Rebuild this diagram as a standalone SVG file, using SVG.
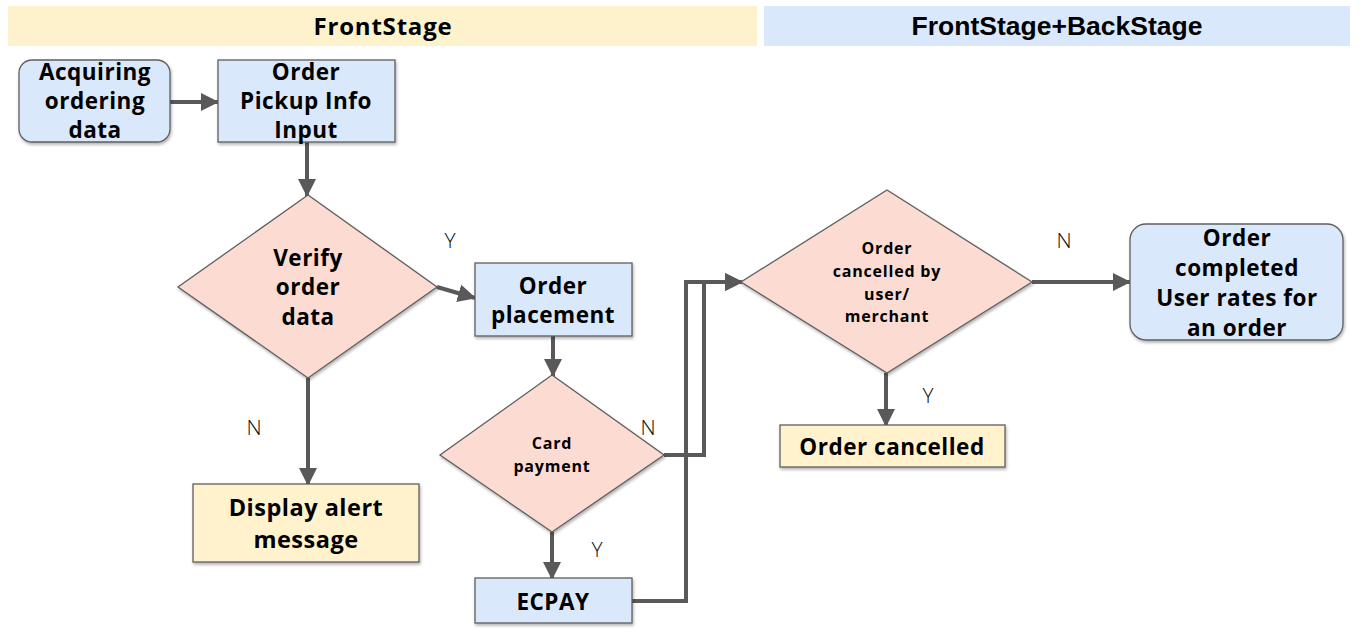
<svg xmlns="http://www.w3.org/2000/svg" width="1362" height="638" viewBox="0 0 1362 638">
<style>
.box{stroke:#5f5f5f;stroke-width:1.3}
.blue{fill:#dae8fc}
.yellow{fill:#fff2cc}
.pink{fill:#fcdcd2}
.t{font-family:"Open Sans","Noto Sans",sans-serif;font-weight:bold;font-size:22.5px;letter-spacing:0.5px;fill:#000;text-anchor:middle}
.ts{font-family:"Open Sans","Noto Sans",sans-serif;font-weight:bold;font-size:16px;letter-spacing:0.8px;fill:#000;text-anchor:middle}
.lbl{font-family:"Open Sans","Noto Sans",sans-serif;font-weight:300;font-size:21px;fill:#111;text-anchor:middle}
.conn{fill:none;stroke:#595959;stroke-width:4}
</style>
<defs>
<marker id="ah" markerUnits="userSpaceOnUse" markerWidth="18" markerHeight="18" refX="17" refY="9" orient="auto">
<path d="M0,0 L18,9 L0,18 z" fill="#595959"/>
</marker>
<filter id="sh" x="-10%" y="-10%" width="125%" height="130%">
<feDropShadow dx="1" dy="2" stdDeviation="1.5" flood-color="#000" flood-opacity="0.3"/>
</filter>
</defs>

<g id="header-frontstage">
<rect x="8" y="6" width="749" height="40" fill="#fef2cc"/>
<text x="383" y="35" class="t" style="font-size:24px;letter-spacing:0.8px">FrontStage</text>
</g>
<g id="header-backstage">
<rect x="764" y="6" width="586" height="40" fill="#dae8fc"/>
<text x="1057" y="35" style="font-family:'Liberation Sans',Arial,sans-serif;font-weight:bold;font-size:26.5px;text-anchor:middle">FrontStage+BackStage</text>
</g>

<g id="connectors">
<line class="conn" x1="170" y1="102" x2="218" y2="102" marker-end="url(#ah)"/>
<line class="conn" x1="307" y1="142" x2="307" y2="196" marker-end="url(#ah)"/>
<line class="conn" x1="437" y1="287" x2="475" y2="298" marker-end="url(#ah)"/>
<line class="conn" x1="308" y1="378" x2="308" y2="485" marker-end="url(#ah)"/>
<line class="conn" x1="553" y1="336" x2="553" y2="376" marker-end="url(#ah)"/>
<line class="conn" x1="552" y1="532" x2="552" y2="579" marker-end="url(#ah)"/>
<polyline class="conn" points="664,455 704,455 704,282 742,282" marker-end="url(#ah)"/>
<polyline class="conn" points="632,601 686,601 686,282 742,282" marker-end="url(#ah)"/>
<line class="conn" x1="1032" y1="282" x2="1130" y2="282" marker-end="url(#ah)"/>
<line class="conn" x1="886" y1="373" x2="886" y2="426" marker-end="url(#ah)"/>
<text class="lbl" x="450" y="248">Y</text>
<text class="lbl" x="254" y="435">N</text>
<text class="lbl" x="648" y="435">N</text>
<text class="lbl" x="597" y="557">Y</text>
<text class="lbl" x="1064" y="248">N</text>
<text class="lbl" x="928" y="403">Y</text>
</g>

<g id="acquiring">
<rect x="19" y="60" width="151" height="82" rx="13" class="box blue" filter="url(#sh)"/>
<text class="t" x="95" y="80">Acquiring</text>
<text class="t" x="95" y="109">ordering</text>
<text class="t" x="95" y="138">data</text>
</g>
<g id="pickup">
<rect x="218" y="60" width="177" height="82" class="box blue" filter="url(#sh)"/>
<text class="t" x="306" y="80">Order</text>
<text class="t" x="306" y="109">Pickup Info</text>
<text class="t" x="306" y="138">Input</text>
</g>
<g id="verify">
<polygon points="308,195 437,287 308,378 178,287" class="box pink" filter="url(#sh)"/>
<text class="t" x="308" y="266">Verify</text>
<text class="t" x="308" y="295">order</text>
<text class="t" x="308" y="325">data</text>
</g>
<g id="alert">
<rect x="193" y="484" width="226" height="78" class="box yellow" filter="url(#sh)"/>
<text class="t" x="306" y="516" style="font-size:23.5px">Display alert</text>
<text class="t" x="306" y="548" style="font-size:23.5px">message</text>
</g>
<g id="placement">
<rect x="475" y="263" width="157" height="73" class="box blue" filter="url(#sh)"/>
<text class="t" x="553" y="294">Order</text>
<text class="t" x="553" y="323">placement</text>
</g>
<g id="card">
<polygon points="552,375 664,455 552,532 440,455" class="box pink" filter="url(#sh)"/>
<text class="ts" x="552" y="449">Card</text>
<text class="ts" x="552" y="472">payment</text>
</g>
<g id="ecpay">
<rect x="475" y="578" width="157" height="45" class="box blue" filter="url(#sh)"/>
<text class="t" x="553" y="610">ECPAY</text>
</g>
<g id="cancel-decision">
<polygon points="887,190 1032,282 887,373 741,282" class="box pink" filter="url(#sh)"/>
<text class="ts" x="887" y="254">Order</text>
<text class="ts" x="887" y="277">cancelled by</text>
<text class="ts" x="887" y="300">user/</text>
<text class="ts" x="887" y="322">merchant</text>
</g>
<g id="completed">
<rect x="1130" y="224" width="213" height="116" rx="16" class="box blue" filter="url(#sh)"/>
<text class="t" x="1237" y="246">Order</text>
<text class="t" x="1237" y="276">completed</text>
<text class="t" x="1237" y="306">User rates for</text>
<text class="t" x="1237" y="336">an order</text>
</g>
<g id="cancelled">
<rect x="780" y="425" width="225" height="42" class="box yellow" filter="url(#sh)"/>
<text class="t" x="892" y="455">Order cancelled</text>
</g>
</svg>
